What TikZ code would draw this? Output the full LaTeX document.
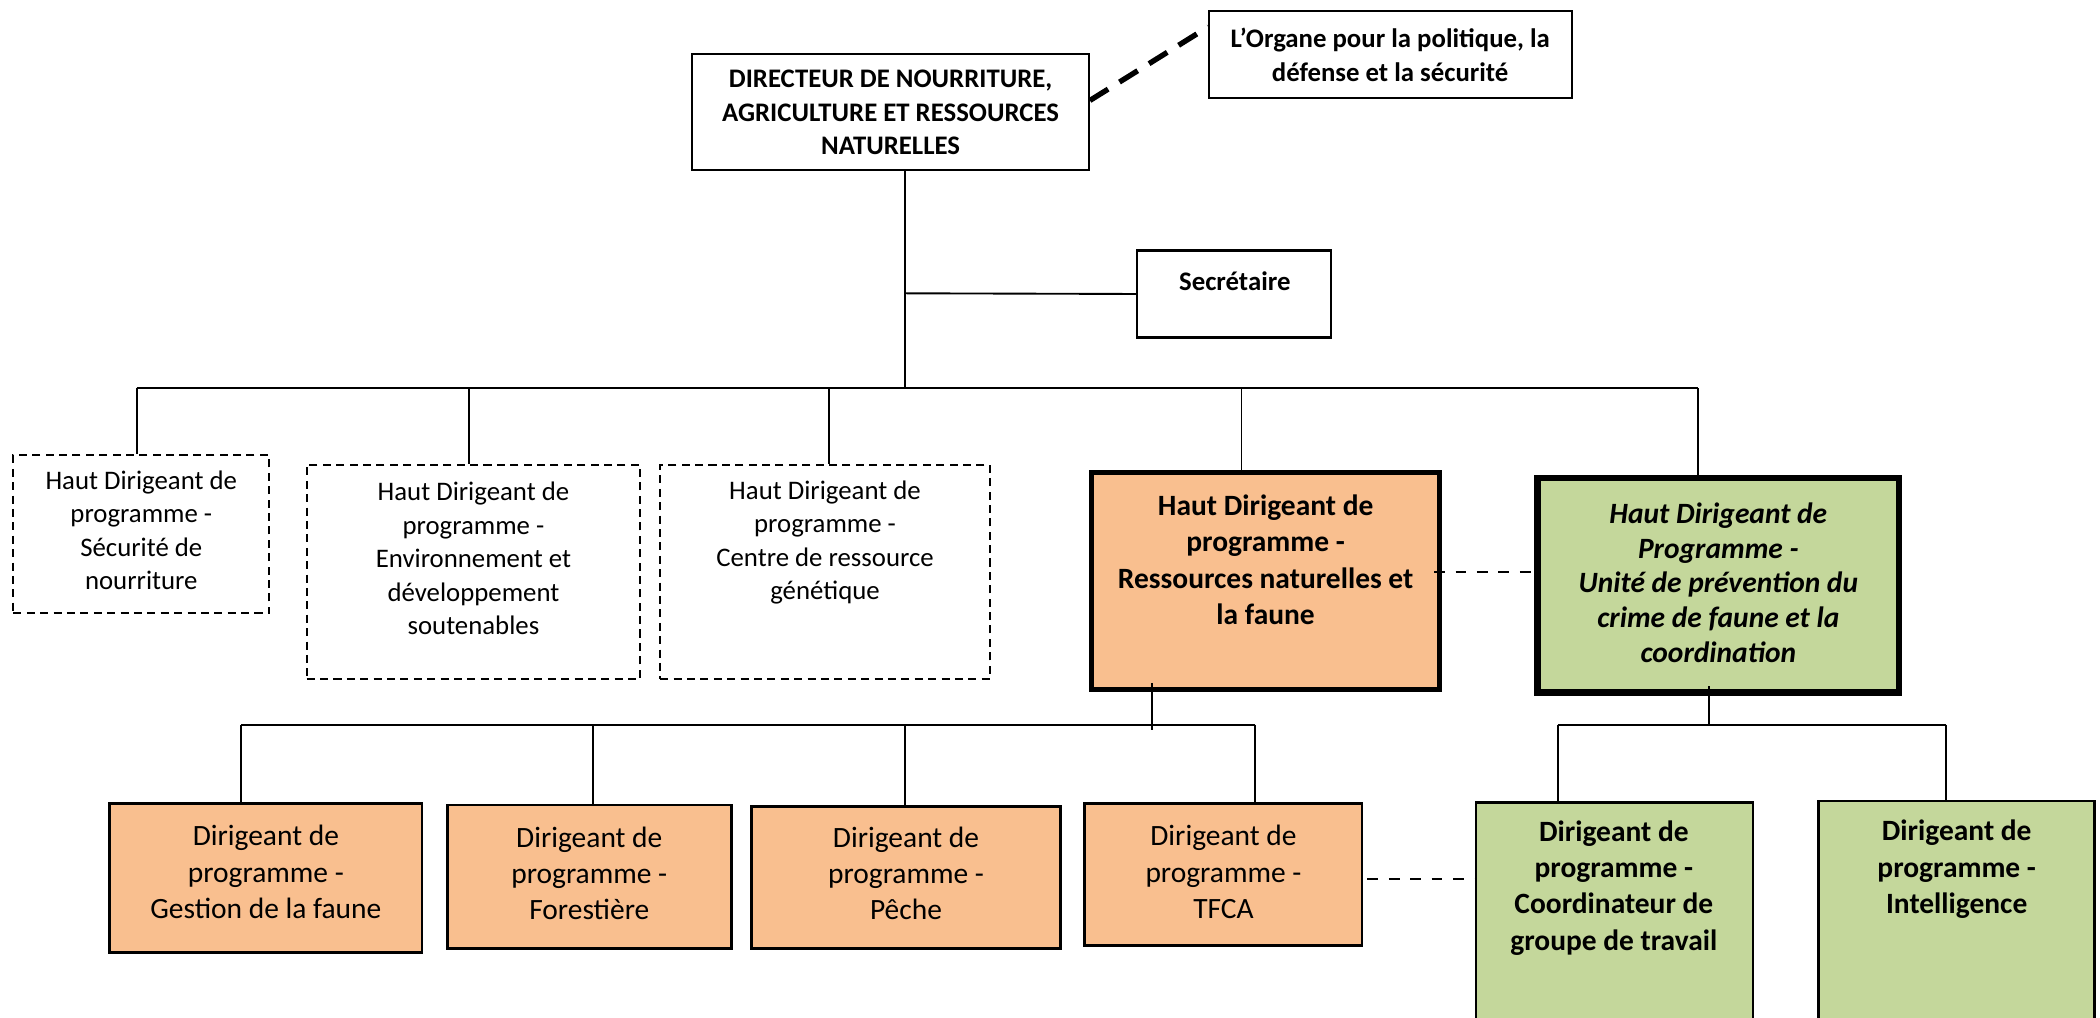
\documentclass[tikz,border=0pt]{standalone}
\usepackage{fontspec}
\setmainfont{Carlito}
\usetikzlibrary{fit}
\definecolor{orfill}{HTML}{F9BF8F}
\definecolor{grfill}{HTML}{C4D79B}
\tikzset{
  plainbox/.style={draw=black, line width=0.8pt, inner sep=0pt},
  dashbox/.style={draw=black, line width=0.7pt, dash pattern=on 3pt off 2pt, inner sep=0pt},
  orbox/.style={draw=black, fill=orfill, line width=1pt, inner sep=0pt},
  grbox/.style={draw=black, fill=grfill, line width=1pt, inner sep=0pt},
  orthick/.style={orbox, line width=1.8pt},
  grthick/.style={grbox, line width=2.3pt},
  txtA/.style={align=center, inner sep=0pt, font=\fontsize{10}{12.5}\selectfont},
  txtAb/.style={txtA, font=\fontsize{10}{12.5}\selectfont\bfseries},
  txtB/.style={align=center, inner sep=0pt, font=\fontsize{11}{13.5}\selectfont},
  txtBb/.style={txtB, font=\fontsize{11}{13.5}\selectfont\bfseries},
  txtBbi/.style={txtB, font=\fontsize{11}{13}\selectfont\bfseries\itshape},
  conn/.style={line width=0.7pt},
  dashconn/.style={line width=0.7pt, dash pattern=on 4pt off 4pt},
  bigdash/.style={line width=2pt, dash pattern=on 8pt off 5pt}
}
\begin{document}
\begin{tikzpicture}[x=0.5pt, y=-0.5pt]
\useasboundingbox (0,0) rectangle (1568,760);

% top level
\node[plainbox, fit={(517,40) (813,127)}] (dir) {};
\node[txtAb] (dir-t) at (665,84) {DIRECTEUR DE NOURRITURE,\\AGRICULTURE ET RESSOURCES\\NATURELLES};
\node[plainbox, fit={(903,8) (1174,73)}] (org) {};
\node[txtAb] (org-t) at (1038,41) {L’Organe pour la politique, la\\défense et la sécurité};
\node[plainbox, fit={(849,187) (994,252)}] (sec) {};
\node[txtAb] (sec-t) at (922,210) {Secrétaire};

\draw[bigdash] ([yshift=4.25pt]dir.east) -- ([yshift=10.25pt]org.west);

% level 2 boxes
\node[dashbox, fit={(10,340) (201,458)}] (hb1) {};
\node[txtA] (hb1-t) at (105.5,396) {Haut Dirigeant de\\programme -\\Sécurité de\\nourriture};
\node[dashbox, fit={(229,347) (478,507)}] (hb2) {};
\node[txtA] (hb2-t) at (353.5,417) {Haut Dirigeant de\\programme -\\Environnement et\\développement\\soutenables};
\node[dashbox, fit={(493,347) (739,507)}] (hb3) {};
\node[txtA] (hb3-t) at (616,405) {Haut Dirigeant de\\programme -\\Centre de ressource\\génétique};
\node[orthick, fit={(815,353) (1075,515)}] (hb4) {};
\node[txtBb] (hb4-t) at (945,418) {Haut Dirigeant de\\programme -\\Ressources naturelles et\\la faune};
\node[grthick, fit={(1148,357) (1418,517)}] (hb5) {};
\node[txtBbi] (hb5-t) at (1283,435) {Haut Dirigeant de\\Programme -\\Unité de prévention du\\crime de faune et la\\coordination};

% level 3 boxes
\node[orbox, fit={(82,600) (315,711)}] (b1) {};
\node[txtB] (b1-t) at (198.5,651) {Dirigeant de\\programme -\\Gestion de la faune};
\node[orbox, fit={(334,601) (546,708)}] (b2) {};
\node[txtB] (b2-t) at (440,652) {Dirigeant de\\programme -\\Forestière};
\node[orbox, fit={(561,602) (792,708)}] (b3) {};
\node[txtB] (b3-t) at (676.5,652) {Dirigeant de\\programme -\\Pêche};
\node[orbox, fit={(810,600) (1017,706)}] (b4) {};
\node[txtB] (b4-t) at (913.5,651) {Dirigeant de\\programme -\\TFCA};
\node[grbox, fit={(1102,599) (1309,780)}] (g1) {};
\node[txtBb] (g1-t) at (1205,663) {Dirigeant de\\programme -\\Coordinateur de\\groupe de travail};
\node[grbox, fit={(1358,598) (1564,780)}] (g2) {};
\node[txtBb] (g2-t) at (1461,649) {Dirigeant de\\programme -\\Intelligence};

% trunk and bus
\coordinate (j1) at (676,219);
\coordinate (j2) at (676,290);
\coordinate (d1) at (102,290);
\coordinate (d2) at (350,290);
\coordinate (d3) at (619,290);
\coordinate (d4) at (927,290);
\coordinate (d5) at (1268,290);
\draw[conn] (dir.south -| j1) -- (j2);
\draw[conn] (j1) -- (sec.west);
\draw[conn] (d1) -- (d5);
\draw[conn] (d1) -- (d1 |- hb1.north);
\draw[conn] (d2) -- (d2 |- hb2.north);
\draw[conn] (d3) -- (d3 |- hb3.north);
\draw[conn] (d4) -- (d4 |- hb4.north);
\draw[conn] (d5) -- (d5 |- hb5.north);

\draw[dashconn] ([yshift=3.5pt,xshift=-3pt]hb4.east) -- ([yshift=3.5pt]hb4.east -| hb5.west);

% orange sub-bus
\coordinate (o0) at (860,541);
\coordinate (o1) at (180,541);
\coordinate (o2) at (443,541);
\coordinate (o3) at (676,541);
\coordinate (o4) at (937,541);
\draw[conn] ([yshift=3.5pt]o0 |- hb4.south) -- ([yshift=-2pt]o0);
\draw[conn] (o1) -- (o4);
\draw[conn] (o1) -- (o1 |- b1.north);
\draw[conn] (o2) -- (o2 |- b2.north);
\draw[conn] (o3) -- (o3 |- b3.north);
\draw[conn] (o4) -- (o4 |- b4.north);

\draw[dashconn] ([yshift=-1.5pt,xshift=1.5pt]b4.east) -- ([yshift=-1.5pt]b4.east -| g1.west);

% green sub-bus
\coordinate (p0) at (1276,541);
\coordinate (p1) at (1163,541);
\coordinate (p2) at (1453,541);
\draw[conn] ([yshift=3.5pt]p0 |- hb5.south) -- (p0);
\draw[conn] (p1) -- (p2);
\draw[conn] (p1) -- (p1 |- g1.north);
\draw[conn] (p2) -- (p2 |- g2.north);
\end{tikzpicture}
\end{document}
